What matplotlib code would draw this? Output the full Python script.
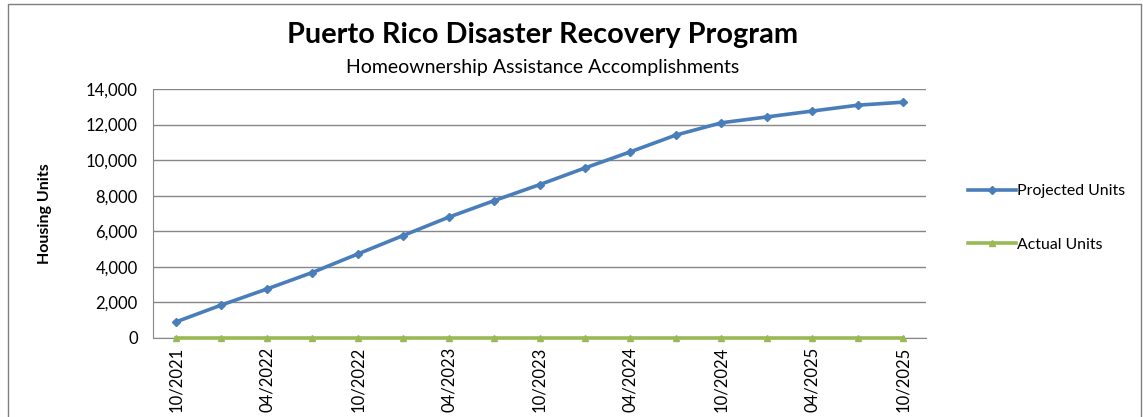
import matplotlib
matplotlib.use('Agg')
import matplotlib.pyplot as plt
from matplotlib.patches import Rectangle

plt.rcParams['font.family'] = ['Lato', 'DejaVu Sans']

# quarterly points, 10/2021 .. 10/2025
quarters = ['10/2021', '01/2022', '04/2022', '07/2022', '10/2022', '01/2023', '04/2023',
            '07/2023', '10/2023', '01/2024', '04/2024', '07/2024', '10/2024', '01/2025',
            '04/2025', '07/2025', '10/2025']
projected_units = [900, 1850, 2750, 3680, 4720, 5760, 6790, 7720, 8620, 9560,
                   10470, 11410, 12100, 12430, 12760, 13090, 13260]
actual_units = [0] * len(quarters)

blue = '#4A7EBB'
green = '#98B954'
grid_grey = '#868686'

fig = plt.figure(figsize=(11.43, 4.17), dpi=100)

# chart area border
fig.patches.append(Rectangle((8 / 1143, -0.01), 1133 / 1143, 1 - 4 / 417 + 0.01,
                             transform=fig.transFigure, fill=False,
                             edgecolor='#7f7f7f', linewidth=1))

ax = fig.add_axes([153 / 1143, 79 / 417, 773 / 1143, 249 / 417])

x = list(range(len(quarters)))
ax.plot(x, projected_units, color=blue, linewidth=2.6, marker='D', markersize=4,
        label='Projected Units', zorder=3)
ax.plot(x, actual_units, color=green, linewidth=2.6, marker='^', markersize=5,
        label='Actual Units', zorder=3, clip_on=False)

ax.set_xlim(-0.5, len(quarters) - 0.5)
ax.set_ylim(0, 14000)
ax.set_yticks(range(0, 14001, 2000))
ax.set_yticklabels([f'{v:,}' for v in range(0, 14001, 2000)], fontsize=12)
ax.set_xticks(x[::2])
ax.set_xticklabels(quarters[::2], rotation=90, fontsize=12)
ax.tick_params(axis='y', length=0, pad=11)
ax.tick_params(axis='x', length=0, pad=6)

ax.grid(axis='y', color=grid_grey, linewidth=1)
ax.set_axisbelow(True)
for side in ['top', 'right']:
    ax.spines[side].set_visible(False)
for side in ['left', 'bottom']:
    ax.spines[side].set_color(grid_grey)

ax.set_ylabel('Housing Units', fontsize=11.5, fontweight='bold')
ax.yaxis.set_label_coords(-0.131, 0.5)

fig.text(543 / 1143, 1 - 35 / 417, 'Puerto Rico Disaster Recovery Program',
         ha='center', va='center', fontsize=20.8, fontweight='bold')
fig.text(543 / 1143, 1 - 67 / 417, 'Homeownership Assistance Accomplishments',
         ha='center', va='center', fontsize=14)

ax.legend(loc='upper left', bbox_to_anchor=(1.036, 0.675), frameon=False, fontsize=11.4,
          handlelength=3.0, handletextpad=0.1, labelspacing=2.5)

fig.savefig('out.png', dpi=100)
